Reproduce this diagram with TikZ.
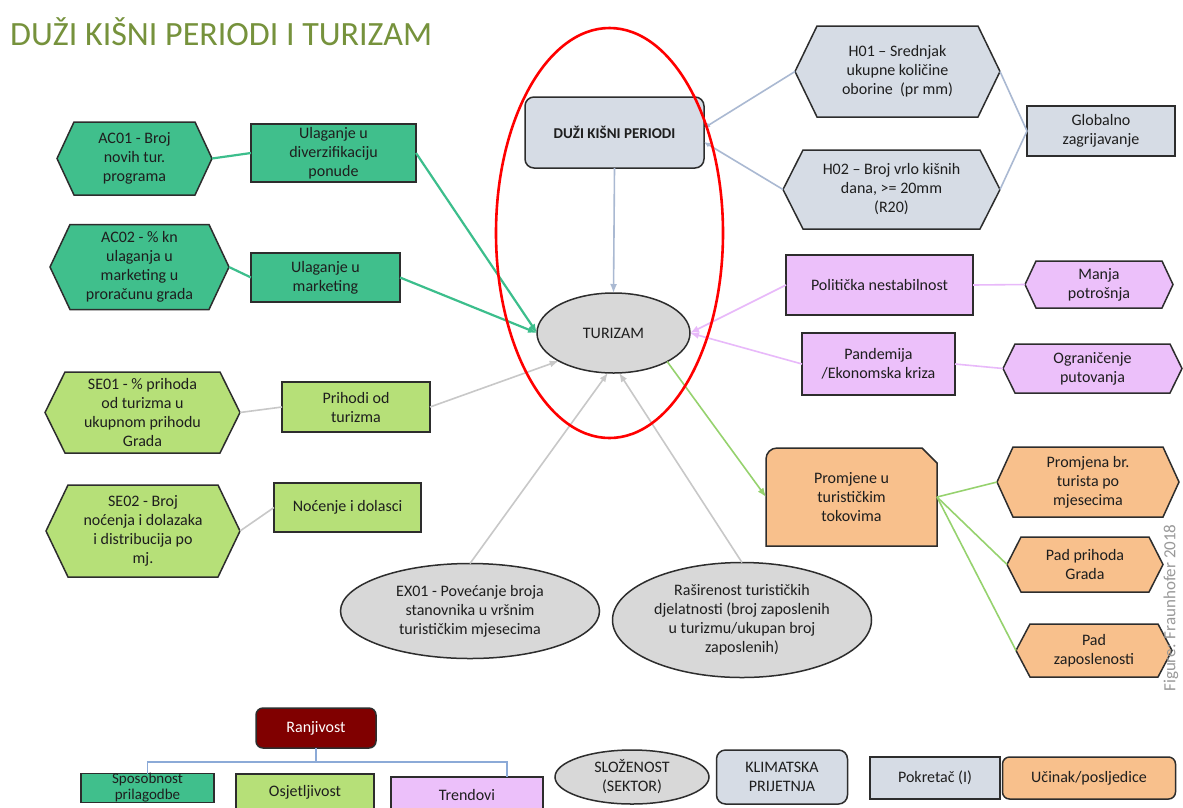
\documentclass[tikz,border=0pt]{standalone}
\usepackage{fontspec}
\setmainfont{Carlito}
\usetikzlibrary{arrows.meta,calc,shapes.geometric}
\definecolor{teal}{RGB}{64,191,140}
\definecolor{lgreen}{RGB}{182,224,120}
\definecolor{bgrey}{RGB}{214,220,229}
\definecolor{pinkf}{RGB}{236,192,250}
\definecolor{orangef}{RGB}{248,192,140}
\definecolor{greyf}{RGB}{216,216,216}
\definecolor{darkred}{RGB}{128,0,0}
\definecolor{titlegreen}{RGB}{118,146,60}
\definecolor{cteal}{RGB}{60,190,140}
\definecolor{cgrey}{RGB}{200,200,200}
\definecolor{cblue}{RGB}{170,185,210}
\definecolor{cpink}{RGB}{232,185,250}
\definecolor{clgreen}{RGB}{150,210,110}
\definecolor{cbrk}{RGB}{140,170,215}
\definecolor{bordc}{RGB}{45,45,45}
\definecolor{txtc}{RGB}{30,30,30}
\tikzset{
  txt/.style={font=\fontsize{16}{19}\selectfont, align=center, text=txtc, inner sep=0pt, outer sep=0pt},
  bx/.style={txt, draw=bordc, line width=1.5pt, rectangle},
  rbx/.style={bx, rounded corners=9pt},
  ell/.style={txt, draw=bordc, line width=1.5pt, ellipse, fill=greyf},
  hexdraw/.style={draw=bordc, line width=1.5pt, line join=miter},
  conn/.style={line width=1.6pt},
  tconn/.style={line width=2.2pt, cteal},
  tip/.style={-{Latex[length=9pt,width=7pt]}},
  smalltip/.style={-{Latex[length=6pt,width=5pt]}},
  brk/.style={line width=1.4pt, cbrk},
}
\newcommand\hexnode[8]{%
  \filldraw[hexdraw,fill=#7] ({#2-#4/2},#3) -- ({#2-#4/2+#6},{#3-#5/2}) -- ({#2+#4/2-#6},{#3-#5/2}) -- ({#2+#4/2},#3) -- ({#2+#4/2-#6},{#3+#5/2}) -- ({#2-#4/2+#6},{#3+#5/2}) -- cycle;
  \node[txt,minimum width=#4,minimum height=#5] (#1) at (#2,#3) {#8};}
\begin{document}
\begin{tikzpicture}[x=1pt,y=-1pt]
\useasboundingbox (0,0) rectangle (1183,807);
\clip (0,0) rectangle (1183,807);
\fill[white] (0,0) rectangle (1183,807);

% title
\node[anchor=base west, inner sep=0pt, font=\fontsize{34}{40}\selectfont, text=titlegreen] (title) at (10,45) {DUŽI KIŠNI PERIODI I TURIZAM};

% left column
\hexnode{ac1}{134.5}{158.5}{155}{73}{17}{teal}{AC01 - Broj\\novih tur.\\programa}
\hexnode{ac2}{139.5}{267}{179}{85}{20}{teal}{AC02 - \% kn\\ulaganja u\\marketing u\\proračunu grada}
\hexnode{se1}{142.5}{412.5}{195}{81}{20}{lgreen}{SE01 - \% prihoda\\od turizma u\\ukupnom prihodu\\Grada}
\hexnode{se2}{143}{531}{194}{92}{22}{lgreen}{SE02 - Broj\\noćenja i dolazaka\\i distribucija po\\mj.}

\node[bx, fill=teal, minimum width=165, minimum height=58] (ul1) at (333.5,153) {Ulaganje u\\diverzifikaciju\\ponude};
\node[bx, fill=teal, minimum width=149, minimum height=49] (ul2) at (325.5,277.5) {Ulaganje u\\marketing};
\node[bx, fill=lgreen, minimum width=148, minimum height=50] (prih) at (356,407) {Prihodi od\\turizma};
\node[bx, fill=lgreen, minimum width=147, minimum height=49] (noc) at (347.5,507.5) {Noćenje i dolasci};

% centre
\node[rbx, fill=bgrey, minimum width=179, minimum height=71, font=\fontsize{15}{18}\selectfont\bfseries] (duzi) at (614.5,132.5) {DUŽI KIŠNI PERIODI};
\node[ell, minimum width=153, minimum height=80] (tur) at (613.5,333) {TURIZAM};
\node[ell, minimum width=259, minimum height=95] (ex1) at (470,611) {EX01 - Povećanje broja\\stanovnika u vršnim\\turističkim mjesecima};
\node[ell, minimum width=259, minimum height=115] (ras) at (742,620) {Raširenost turističkih\\djelatnosti (broj zaposlenih\\u turizmu/ukupan broj\\zaposlenih)};

% top right
\hexnode{h1}{897.5}{71.5}{205}{91}{22}{bgrey}{H01 – Srednjak\\ukupne količine\\oborine~~(pr mm)}
\hexnode{h2}{891.5}{189.5}{217}{79}{20}{bgrey}{H02 – Broj vrlo kišnih\\dana, >= 20mm\\(R20)}
\node[bx, fill=bgrey, minimum width=148, minimum height=50] (glob) at (1101,131) {Globalno\\zagrijavanje};

% pink
\node[bx, fill=pinkf, minimum width=187, minimum height=60] (pol) at (879.5,285) {Politička nestabilnost};
\node[bx, fill=pinkf, minimum width=153, minimum height=62] (pand) at (878.5,364) {Pandemija\\/Ekonomska kriza};
\hexnode{mp}{1099}{284.5}{148}{47}{11}{pinkf}{Manja\\potrošnja}
\hexnode{og}{1092.5}{368.5}{179}{49}{12}{pinkf}{Ograničenje\\putovanja}

% orange
\filldraw[hexdraw, fill=orangef] (766,546) -- (766,459) arc[start angle=180,end angle=90,radius=11pt] -- (922,448) -- (937,463) -- (937,546) -- cycle;
\node[txt, minimum width=171, minimum height=98] (prom) at (851.5,497) {Promjene u\\turističkim\\tokovima};
\hexnode{pbr}{1088}{482}{182}{70}{16}{orangef}{Promjena br.\\turista po\\mjesecima}
\hexnode{ppg}{1085}{564.5}{156}{55}{14}{orangef}{Pad prihoda\\Grada}
\hexnode{pz}{1094}{650.5}{156}{53}{14}{orangef}{Pad\\zaposlenosti}

\node[txt, rotate=90, text=black!40, font=\fontsize{17}{20}\selectfont] (fig) at (1171,608) {Figure: Fraunhofer 2018};

% connectors
\draw[tconn] (ac1.east) -- (ul1.west);
\draw[tconn] (ac2.east) -- (ul2.west);
\draw[tconn,tip] (ul1.east) -- (tur.west);
\draw[tconn,tip] (ul2.east) -- (tur.west);
\draw[conn,cgrey] (se1.east) -- (prih.west);
\draw[conn,cgrey] (se2.east) -- (noc.west);
\draw[conn,cgrey,tip] (prih.east) -- (tur.207);
\draw[conn,cgrey,tip] (ex1.north) -- (tur.262);
\draw[conn,cgrey,tip] (ras.north) -- (tur.278);
\draw[conn,cblue,tip] (duzi.south) -- (tur.north);
\draw[conn,cblue,smalltip] (h1.west) -- ([yshift=4.5pt]duzi.east);
\draw[conn,cblue,smalltip] (h2.west) -- ([yshift=-9.5pt]duzi.east);
\draw[conn,cblue] (glob.west) -- (h1.east);
\draw[conn,cblue] (glob.west) -- (h2.east);
\draw[conn,cpink,tip] (pol.west) -- (tur.east);
\draw[conn,cpink,tip] (pand.west) -- (tur.east);
\draw[conn,cpink] (pol.east) -- (mp.west);
\draw[conn,cpink] (pand.east) -- (og.west);
\draw[conn,clgreen,tip] (tur.332) -- (prom.west);
\draw[conn,clgreen] (prom.east) -- (pbr.west);
\draw[conn,clgreen] (prom.east) -- (ppg.west);
\draw[conn,clgreen] (prom.east) -- (pz.west);

% red highlight
\draw[red, line width=2.6pt] (609.5,233) ellipse [x radius=113.5pt, y radius=205pt];

% legend
\node[rbx, fill=darkred, text=white, minimum width=120, minimum height=40, rounded corners=7pt] (ranj) at (316,728) {Ranjivost};
\node[bx, fill=teal, minimum width=133, minimum height=28, font=\fontsize{15}{16}\selectfont] (spos) at (147.5,788) {Sposobnost\\prilagodbe};
\node[bx, fill=lgreen, minimum width=138, minimum height=36] (osj) at (305,792) {Osjetljivost};
\node[bx, fill=pinkf, minimum width=152, minimum height=36] (trend) at (467,795) {Trendovi};
\coordinate (bmid) at (316,762);
\coordinate (brR) at (507,777);
\draw[brk] (ranj.south) -- (bmid);
\draw[brk] (spos.north) |- (bmid) -| (brR);
\node[ell, minimum width=154, minimum height=54] (slo) at (632,777) {SLOŽENOST\\(SEKTOR)};
\node[rbx, fill=bgrey, minimum width=131, minimum height=54] (klim) at (782,777) {KLIMATSKA\\PRIJETNJA};
\node[bx, fill=bgrey, minimum width=130, minimum height=42] (pokr) at (935,778) {Pokretač (I)};
\node[rbx, fill=orangef, minimum width=173, minimum height=42, rounded corners=7pt] (ucin) at (1089,778) {Učinak/posljedice};
\end{tikzpicture}
\end{document}
